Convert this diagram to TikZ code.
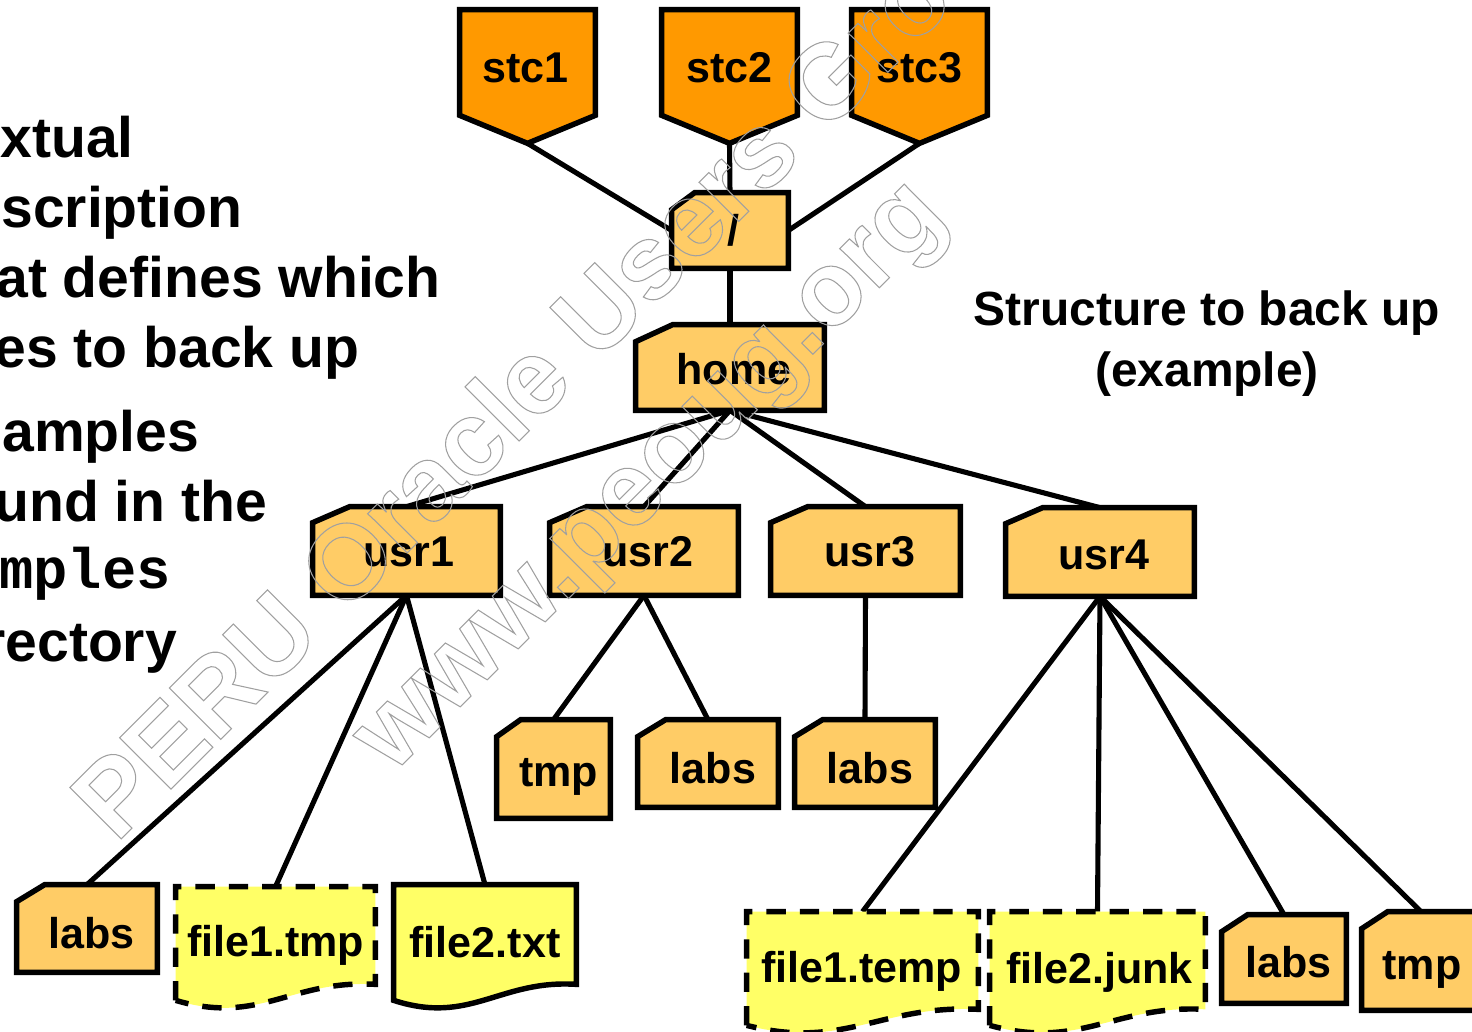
\documentclass[tikz,border=0pt]{standalone}
\usepackage{fontspec}
\setmainfont{Liberation Sans}
\setmonofont{Liberation Mono}
\usetikzlibrary{calc}

\definecolor{stcfill}{HTML}{FF9900}
\definecolor{dirfill}{HTML}{FFCC66}
\definecolor{filefill}{HTML}{FFFF66}
\definecolor{wmgray}{HTML}{A0A0A0}

\pgfdeclarelayer{back}
\pgfdeclarelayer{front}
\pgfsetlayers{back,main,front}

% one drawing unit
\newlength\pxu \setlength\pxu{0.02cm}
% move a label by (#1 right, #2 down) without changing the size of its box
\newcommand\lbl[3]{\raisebox{-#2\pxu}[\height][\depth]{\hspace*{#1\pxu}#3\hspace*{-#1\pxu}}}
% hollow lettering: stroke the glyph outlines only
\newcommand\outlinetext[1]{\special{pdf:literal direct 1 Tr 0.6 w}#1\special{pdf:literal direct 0 Tr}}
% large bold body text
\newcommand\bodyfont{\fontsize{32.5}{38}\selectfont\bfseries}

% outlines drawn from the anchors of the named nodes
\newcommand\stcshape[1]{\draw[outline, fill=stcfill] (#1.north west) -- (#1.north east)
  -- ($(#1.south east)+(0,-28)$) -- (#1.south) -- ($(#1.south west)+(0,-28)$) -- cycle;}
\newcommand\foldershape[3]{\draw[outline, fill=dirfill] ($(#1.north west)+(#2,0)$) -- (#1.north east)
  -- (#1.south east) -- (#1.south west) -- ($(#1.north west)+(0,#3)$) -- cycle;}
\newcommand\docshape[2]{\draw[outline, fill=filefill, #2] (#1.south west) -- (#1.north west)
  -- (#1.north east) -- ($(#1.south east)+(0,-16)$)
  .. controls ($(#1.south west)!0.58!(#1.south east)+(0,-21)$)
  and ($(#1.south west)!0.42!(#1.south east)+(0,25)$) .. (#1.south west) -- cycle;}

\begin{document}
\begin{tikzpicture}[x=0.02cm, y=-0.02cm,
  box/.style={rectangle, inner sep=0pt, font=\fontsize{24.5}{28}\selectfont\bfseries},
  sz/.style 2 args={minimum width=#1*0.02cm, minimum height=#2*0.02cm},
  outline/.style={draw=black, line width=3.1pt},
  link/.style={draw=black, line width=2.9pt},
  dashedline/.style={dash pattern=on 11pt off 8pt},
  lefttext/.style={anchor=base west, inner sep=0pt, font=\bodyfont},
  title/.style={anchor=base, inner sep=0pt, font=\fontsize{27.3}{32}\selectfont\bfseries},
  wm/.style={anchor=base west, inner sep=0pt, rotate=45, text=wmgray, font=\fontsize{60}{72}\selectfont\bfseries}]

\useasboundingbox (0,0) rectangle (1472,1032);

% ---- left description (runs off the left edge)
\node[lefttext] (d1) at (0,157) {xtual};
\node[lefttext] (d2) at (1,227) {scription};
\node[lefttext] (d3) at (-4,297) {at defines which};
\node[lefttext] (d4) at (-6,367) {es to back up};
\node[lefttext] (d5) at (2,451) {amples};
\node[lefttext] (d6) at (-6,521) {und in the};
\node[lefttext, font=\fontsize{32.5}{38}\selectfont\ttfamily\bfseries] (d7) at (-1,588) {mples};
\node[lefttext] (d8) at (-17,661) {rectory};

% ---- title on the right
\node[title] (t1) at (1207,325) {Structure to back up};
\node[title] (t2) at (1207,386) {(example)};

% ---- tree nodes
\node[box, sz={135}{133}] (stc1) at (527.5,76.5) {\lbl{-2}{-8.5}{stc1}};
\node[box, sz={135}{133}] (stc2) at (729.5,76.5) {\lbl{0}{-8.5}{stc2}};
\node[box, sz={135}{133}] (stc3) at (919.5,76.5) {\lbl{0}{-8.5}{stc3}};
\node[box, sz={116}{75}]  (root) at (730,230.5) {\lbl{3}{0}{/}};
\node[box, sz={188}{85}]  (home) at (730,367.5) {\lbl{4}{2}{home}};
\node[box, sz={187}{88}]  (usr1) at (406.5,551) {\lbl{2}{1}{usr1}};
\node[box, sz={188}{88}]  (usr2) at (644,551) {\lbl{4}{1}{usr2}};
\node[box, sz={189}{88}]  (usr3) at (865.5,551) {\lbl{4}{1}{usr3}};
\node[box, sz={188}{88}]  (usr4) at (1100,552) {\lbl{4}{3}{usr4}};
\node[box, sz={113}{98}]  (tmpA) at (553.5,769) {\lbl{5}{8}{tmp}};
\node[box, sz={140}{87}]  (labsA) at (708,763.5) {\lbl{5}{5}{labs}};
\node[box, sz={140}{87}]  (labsB) at (865,763.5) {\lbl{5}{5}{labs}};
\node[box, sz={140}{87}]  (labsC) at (87,928.5) {\lbl{4.5}{5}{labs}};
\node[box, sz={199}{113}] (ftmp) at (275.5,943.5) {\lbl{0}{2}{file1.tmp}};
\node[box, sz={182}{115}] (ftxt) at (485,942.5) {\lbl{0}{0}{file2.txt}};
\node[box, sz={231}{113}] (ftemp) at (862.5,968.5) {\lbl{-1}{3}{file1.temp}};
\node[box, sz={215}{113}] (fjunk) at (1097.5,968.5) {\lbl{2}{4}{file2.junk}};
\node[box, sz={124}{88}]  (labsD) at (1284,959) {\lbl{4.5}{3}{labs}};
\node[box, sz={118}{98}]  (tmpB) at (1421,961) {\lbl{1}{9}{tmp}};

\begin{pgfonlayer}{back}
  % connectors
  \draw[link] (stc1.south) -- (root.west);
  \draw[link] (stc2.south) -- (root.north);
  \draw[link] (stc3.south) -- (root.east);
  \draw[link] (root.south) -- (home.north);
  \foreach \u in {usr1,usr2,usr3,usr4} \draw[link] (home.south) -- (\u.north);
  \foreach \c in {labsC,ftmp,ftxt} \draw[link] (usr1.south) -- (\c.north);
  \foreach \c in {tmpA,labsA} \draw[link] (usr2.south) -- (\c.north);
  \draw[link] (usr3.south) -- (labsB.north);
  \foreach \c in {ftemp,fjunk,labsD,tmpB} \draw[link] (usr4.south) -- (\c.north);
  % boxes
  \stcshape{stc1} \stcshape{stc2} \stcshape{stc3}
  \foldershape{root}{23}{17}
  \foldershape{home}{37}{17}
  \foldershape{usr1}{37}{16} \foldershape{usr2}{37}{16}
  \foldershape{usr3}{37}{16} \foldershape{usr4}{37}{16}
  \foldershape{tmpA}{24}{17} \foldershape{labsA}{28}{17} \foldershape{labsB}{28}{17}
  \foldershape{labsC}{28}{17} \foldershape{labsD}{26}{17} \foldershape{tmpB}{26}{17}
  \docshape{ftmp}{dashedline}
  \docshape{ftxt}{}
  \docshape{ftemp}{dashedline}
  \docshape{fjunk}{dashedline}
\end{pgfonlayer}

% ---- hollow lettering across the picture
\begin{pgfonlayer}{front}
  \node[wm] (wm1) at (116,844) {\outlinetext{PERU Oracle Users Group}};
  \node[wm] (wm2) at (392,775) {\outlinetext{www.peoug.org}};
\end{pgfonlayer}
\end{tikzpicture}
\end{document}
